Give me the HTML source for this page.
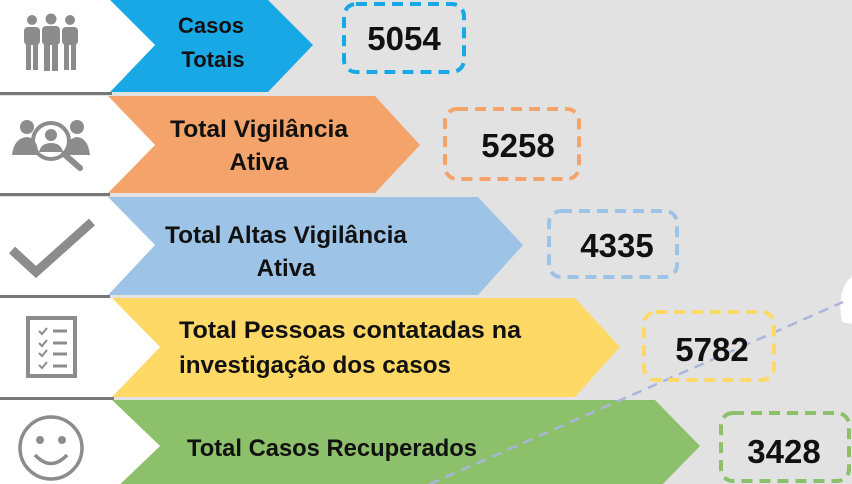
<!DOCTYPE html>
<html><head><meta charset="utf-8"><style>
html,body{margin:0;padding:0;background:#e2e2e2;}
svg{display:block}
text{font-family:"Liberation Sans",sans-serif;font-weight:bold;fill:#111;}
</style></head><body>
<svg width="852" height="484" viewBox="0 0 852 484" xmlns="http://www.w3.org/2000/svg">
<rect width="852" height="484" fill="#e2e2e2"/>
<path d="M852 276 Q836 290 842 322 L852 324 Z" fill="#fff"/>

<!-- row 1 -->
<polygon points="110,0 268,0 313,45 268,92 110,92 155,45" fill="#19a8e6"/>
<polygon points="0,0 110,0 155,45 110,92 0,92" fill="#fff"/>
<rect x="0" y="92" width="112" height="3" fill="#777"/>
<!-- row 2 -->
<polygon points="108,96 375,96 420,145 375,193 108,193 155,145" fill="#f4a46a"/>
<polygon points="0,96 108,96 155,145 108,193 0,193" fill="#fff"/>
<rect x="0" y="193" width="110" height="3" fill="#777"/>
<!-- row 3 -->
<polygon points="108,197 478,197 523,245 478,295 108,295 155,245" fill="#9dc3e6"/>
<polygon points="0,197 108,197 155,245 108,295 0,295" fill="#fff"/>
<rect x="0" y="295" width="110" height="3" fill="#777"/>
<!-- row 4 -->
<polygon points="112,298 575,298 620,347 575,397 112,397 160,347" fill="#ffd966"/>
<polygon points="0,298 112,298 160,347 112,397 0,397" fill="#fff"/>
<rect x="0" y="397" width="114" height="3" fill="#777"/>
<!-- row 5 -->
<polygon points="112,400 655,400 700,446 655,492 112,492 160,446" fill="#8dc06a"/>
<polygon points="0,400 112,400 160,446 112,492 0,492" fill="#fff"/>

<!-- dashed connector -->
<line x1="430" y1="484" x2="843" y2="302" stroke="#a9b5dc" stroke-width="2.5" stroke-dasharray="10,7"/>

<!-- icons -->
<g fill="#8c8c8c">
 <circle cx="32" cy="20" r="5"/><rect x="24" y="27" width="16" height="18" rx="4"/><rect x="26" y="40" width="5" height="30"/><rect x="33" y="40" width="5" height="30"/>
 <circle cx="51" cy="19" r="5.5"/><rect x="42" y="26" width="18" height="19" rx="4"/><rect x="44" y="40" width="6" height="31"/><rect x="52" y="40" width="6" height="31"/>
 <circle cx="70" cy="20" r="5"/><rect x="62" y="27" width="16" height="18" rx="4"/><rect x="64" y="40" width="5" height="30"/><rect x="71" y="40" width="5" height="30"/>
</g>
<g fill="#8c8c8c">
 <circle cx="27" cy="127" r="7"/><path d="M12 155 Q14 138 27 137 Q36 138 38 150 L38 155Z"/>
 <circle cx="77" cy="127" r="7"/><path d="M90 155 Q88 138 77 137 Q68 138 66 150 L66 155Z"/>
 <circle cx="51" cy="141" r="18" fill="none" stroke="#8c8c8c" stroke-width="4"/>
 <circle cx="51" cy="135" r="6"/><path d="M39 152 Q41 143 51 143 Q61 143 63 152Z"/>
 <line x1="64" y1="154" x2="80" y2="168" stroke="#8c8c8c" stroke-width="6" stroke-linecap="round"/>
</g>
<polyline points="12,250 36,272 92,222" fill="none" stroke="#8c8c8c" stroke-width="9"/>
<g stroke="#8c8c8c" fill="none">
 <rect x="28" y="318" width="47" height="58" stroke-width="4"/>
 <g stroke-width="2"><polyline points="39,331 42,334 47,328"/><polyline points="39,343 42,346 47,340"/><polyline points="39,353 42,356 47,350"/><polyline points="39,365 42,368 47,362"/></g>
 <g stroke-width="3"><line x1="53" y1="331" x2="67" y2="331"/><line x1="53" y1="343" x2="67" y2="343"/><line x1="53" y1="354" x2="67" y2="354"/><line x1="53" y1="366" x2="67" y2="366"/></g>
 <circle cx="51" cy="448" r="31" stroke-width="3.5"/>
 <path d="M35 455 Q51 472 67 455" stroke-width="3.5"/>
</g>
<circle cx="40" cy="440" r="4" fill="#8c8c8c"/><circle cx="62" cy="440" r="4" fill="#8c8c8c"/>

<!-- labels -->
<g font-size="22">
 <text x="211" y="33" text-anchor="middle">Casos</text>
 <text x="213" y="67" text-anchor="middle">Totais</text>
</g>
<g font-size="24">
 <text x="259" y="137" text-anchor="middle" textLength="178" lengthAdjust="spacingAndGlyphs">Total Vigilância</text>
 <text x="259" y="170" text-anchor="middle">Ativa</text>
 <text x="286" y="243" text-anchor="middle" textLength="242" lengthAdjust="spacingAndGlyphs">Total Altas Vigilância</text>
 <text x="286" y="276" text-anchor="middle">Ativa</text>
 <text x="179" y="338" textLength="342" lengthAdjust="spacingAndGlyphs">Total Pessoas contatadas na</text>
 <text x="179" y="373" textLength="272" lengthAdjust="spacingAndGlyphs">investigação dos casos</text>
 <text x="187" y="456" textLength="290" lengthAdjust="spacingAndGlyphs">Total Casos Recuperados</text>
</g>

<!-- number boxes -->
<g fill="none" stroke-width="4" stroke-dasharray="11,7">
 <rect x="344" y="4" width="120" height="68" rx="12" stroke="#19a8e6"/>
 <rect x="445" y="109" width="134" height="70" rx="12" stroke="#f4a46a"/>
 <rect x="549" y="211" width="128" height="66" rx="12" stroke="#9dc3e6"/>
 <rect x="644" y="312" width="130" height="68" rx="12" stroke="#ffd966"/>
 <rect x="721" y="413" width="128" height="68" rx="12" stroke="#8dc06a"/>
</g>
<g font-size="33" text-anchor="middle">
 <text x="404" y="50">5054</text>
 <text x="518" y="157">5258</text>
 <text x="617" y="257">4335</text>
 <text x="712" y="361">5782</text>
 <text x="784" y="463">3428</text>
</g>
</svg>
</body></html>
